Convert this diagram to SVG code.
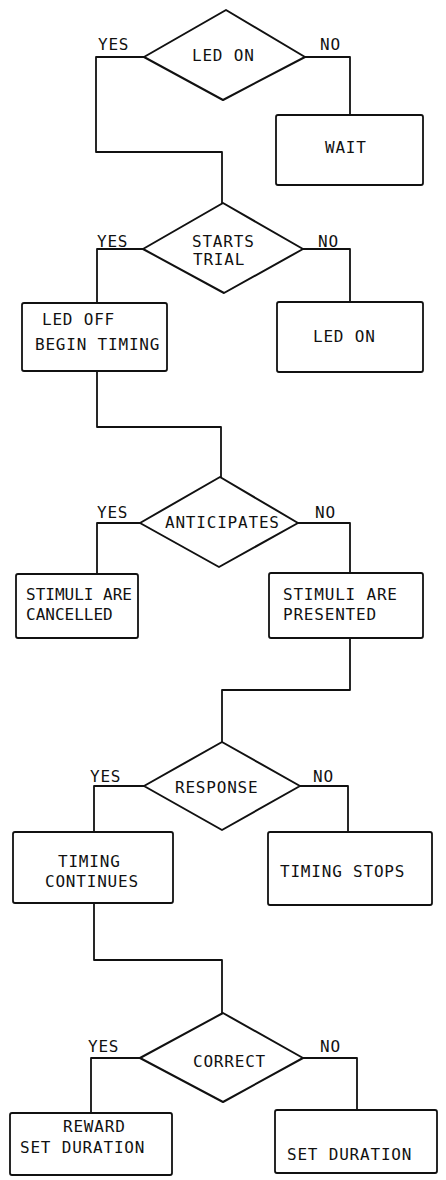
<svg xmlns="http://www.w3.org/2000/svg" width="446" height="1180" viewBox="0 0 446 1180">
  <style>
    .shape { fill: #fff; stroke: #111; stroke-width: 2; stroke-linejoin: round; }
    .box { fill: #fff; stroke: #111; stroke-width: 1.8; }
    .wire { fill: none; stroke: #111; stroke-width: 1.8; stroke-linejoin: round; }
    text { font-family: "DejaVu Sans Mono", "Liberation Mono", monospace; font-size: 16px; letter-spacing: 0.8px; fill: #111; }
    .tight { letter-spacing: 0; }
  </style>
  <rect width="446" height="1180" fill="#fff"/>

  <!-- connectors -->
  <g id="connectors">
    <polyline class="wire" points="144,57 96,57 96,152 222,152 222,203"/>
    <polyline class="wire" points="305,57 350,57 350,115"/>
    <polyline class="wire" points="143,249 97,249 97,303"/>
    <polyline class="wire" points="303,249 350,249 350,302"/>
    <polyline class="wire" points="97,371 97,427 221,427 221,477"/>
    <polyline class="wire" points="140,523 97,523 97,574"/>
    <polyline class="wire" points="298,523 350,523 350,573"/>
    <polyline class="wire" points="350,638 350,690 222,690 222,742"/>
    <polyline class="wire" points="144,786 94,786 94,832"/>
    <polyline class="wire" points="300,786 348,786 348,832"/>
    <polyline class="wire" points="94,903 94,960 222,960 222,1013"/>
    <polyline class="wire" points="140,1058 91,1058 91,1113"/>
    <polyline class="wire" points="303,1058 357,1058 357,1110"/>
  </g>

  <!-- branch labels -->
  <g id="branch-labels">
    <text x="98" y="50">YES</text><text x="320" y="50">NO</text>
    <text x="97" y="247">YES</text><text x="318" y="247">NO</text>
    <text x="97" y="518">YES</text><text x="315" y="518">NO</text>
    <text x="90" y="782">YES</text><text x="313" y="782">NO</text>
    <text x="88" y="1052">YES</text><text x="320" y="1052">NO</text>
  </g>

  <!-- decisions and actions -->
  <g id="led-on-check">
    <polygon class="shape" points="226,10 305,57 223,100 144,57"/>
    <text x="192" y="61">LED ON</text>
  </g>
  <g id="wait">
    <rect class="box" x="276" y="115" width="147" height="70" rx="2"/>
    <text x="325" y="153">WAIT</text>
  </g>

  <g id="starts-trial">
    <polygon class="shape" points="223,203 303,249 224,293 143,249"/>
    <text x="192" y="247">STARTS</text>
    <text x="193" y="265">TRIAL</text>
  </g>
  <g id="led-off-begin-timing">
    <rect class="box" x="22" y="303" width="145" height="68" rx="2"/>
    <text x="42" y="325">LED OFF</text>
    <text x="35" y="350">BEGIN TIMING</text>
  </g>
  <g id="led-on">
    <rect class="box" x="277" y="302" width="146" height="70" rx="2"/>
    <text x="313" y="342">LED ON</text>
  </g>

  <g id="anticipates">
    <polygon class="shape" points="220,477 298,523 219,567 140,523"/>
    <text x="165" y="528">ANTICIPATES</text>
  </g>
  <g id="stimuli-cancelled">
    <rect class="box" x="16" y="574" width="122" height="64" rx="2"/>
    <text class="tight" x="26" y="600">STIMULI ARE</text>
    <text class="tight" x="26" y="620">CANCELLED</text>
  </g>
  <g id="stimuli-presented">
    <rect class="box" x="269" y="573" width="154" height="65" rx="2"/>
    <text x="283" y="600">STIMULI ARE</text>
    <text x="283" y="620">PRESENTED</text>
  </g>

  <g id="response">
    <polygon class="shape" points="222,742 300,786 222,830 144,786"/>
    <text x="175" y="793">RESPONSE</text>
  </g>
  <g id="timing-continues">
    <rect class="box" x="13" y="832" width="160" height="71" rx="2"/>
    <text x="58" y="867">TIMING</text>
    <text x="45" y="887">CONTINUES</text>
  </g>
  <g id="timing-stops">
    <rect class="box" x="268" y="832" width="164" height="73" rx="2"/>
    <text x="280" y="877">TIMING STOPS</text>
  </g>

  <g id="correct">
    <polygon class="shape" points="223,1013 303,1058 223,1102 140,1058"/>
    <text x="193" y="1067">CORRECT</text>
  </g>
  <g id="reward-set-duration">
    <rect class="box" x="10" y="1113" width="162" height="62" rx="2"/>
    <text x="63" y="1132">REWARD</text>
    <text x="20" y="1153">SET DURATION</text>
  </g>
  <g id="set-duration">
    <rect class="box" x="275" y="1110" width="162" height="63" rx="2"/>
    <text x="287" y="1160">SET DURATION</text>
  </g>
</svg>
